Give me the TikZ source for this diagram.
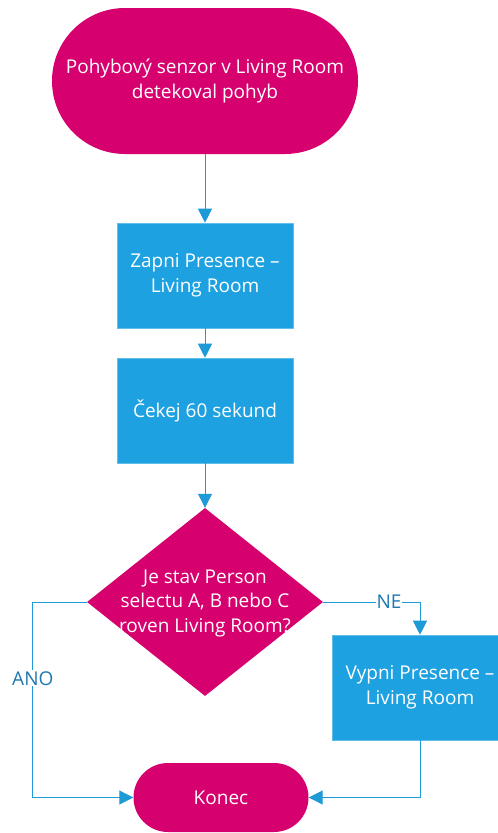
\documentclass[tikz,border=0pt]{standalone}
\usepackage{fontspec}
\setmainfont{Open Sans}
\usetikzlibrary{shapes.geometric,arrows.meta}
\definecolor{magentaflow}{RGB}{214,0,110}
\definecolor{boxblue}{RGB}{29,161,224}
\definecolor{lineblue}{RGB}{30,155,215}
\definecolor{labelblue}{RGB}{30,120,180}
\tikzset{
  terminal/.style={fill=magentaflow, text=white, align=center, inner sep=0pt},
  process/.style={fill=boxblue, draw=boxblue!70!white, line width=0.6pt, text=white, align=center,
    minimum width=176pt, minimum height=105pt, inner sep=0pt},
  decision/.style={diamond, fill=magentaflow, minimum width=236pt, minimum height=188pt,
    aspect=1.255, inner sep=0pt},
  flowtext/.style={font=\fontsize{19}{24.5}\selectfont},
  link/.style={draw=lineblue, line width=1pt, -{Triangle[length=14pt,width=14pt]}},
  linklabel/.style={fill=white, text=labelblue, inner sep=1pt, font=\fontsize{19}{22}\selectfont}
}
\begin{document}
\begin{tikzpicture}[x=1pt,y=-1pt]
  \useasboundingbox (0,0) rectangle (498,833);
  \fill[white] (0,0) rectangle (498,833);

  % start terminal
  \node[terminal, flowtext, minimum width=306pt, minimum height=146pt, rounded corners=73pt]
    (start) at (205,81) {Pohybový senzor v Living Room\\detekoval pohyb};

  % process steps
  \node[process, flowtext] (zapni) at (205,275.5) {Zapni Presence –\\Living Room};
  \node[process, flowtext] (cekej) at (205,410.5) {Čekej 60 sekund};

  % decision
  \node[decision] (dotaz) at (205,602) {};
  \node[flowtext, text=white, align=center] (dotaztext) at (205,603)
    {Je stav Person\\selectu A, B nebo C\\roven Living Room?};

  % switch-off step
  \node[process, flowtext] (vypni) at (420,687.5) {Vypni Presence –\\Living Room};

  % end terminal
  \node[terminal, flowtext, minimum width=175pt, minimum height=69pt, rounded corners=34.5pt]
    (konec) at (221,797.5) {Konec};

  % connectors
  \draw[link] (start) -- (zapni);
  \draw[link] (zapni) -- (cekej);
  \draw[link] (cekej) -- (dotaz);
  \draw[link] (dotaz.west) -- ++(-54,0) coordinate (anobend)
    |- node[linklabel, pos=0.195] {ANO} (konec.west);
  \draw[link] (dotaz.east) -| node[linklabel, pos=0.34, inner sep=0.5pt] {NE} (vypni.north);
  \draw[link] (vypni.south) |- (konec.east);
\end{tikzpicture}
\end{document}
